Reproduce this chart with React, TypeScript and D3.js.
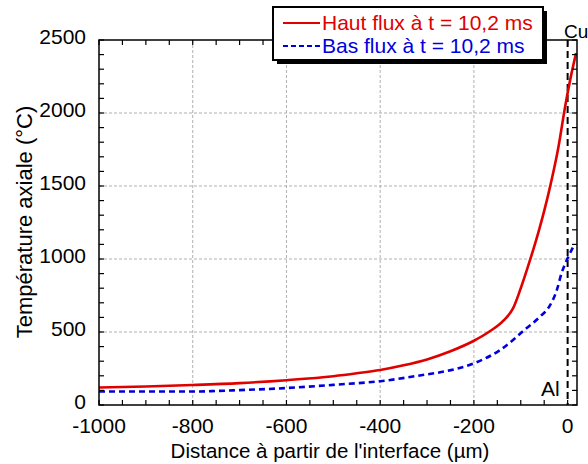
import React from "react";
import * as d3 from "d3";

const xTicks = [-1000, -800, -600, -400, -200, 0];
const yTicks = [0, 500, 1000, 1500, 2000, 2500];

const hautX = [-1000, -900, -800, -700, -600, -500, -450, -400, -350, -300, -250, -200, -166, -137, -116, -100, -80, -60, -40, -20, -5, 5, 18];
const hautY = [120, 127, 137, 150, 170, 197, 217, 240, 272, 312, 368, 440, 505, 578, 665, 800, 995, 1210, 1460, 1760, 2050, 2220, 2410];

const basX = [-1000, -900, -800, -750, -700, -600, -500, -400, -300, -272, -200, -144, -88, -59, -38, -23, -13, 0, 12];
const basY = [92, 92, 92, 96, 102, 116, 138, 163, 210, 224, 285, 377, 525, 605, 680, 788, 902, 1005, 1084];

const seriesNames = ["Haut flux à t = 10,2 ms", "Bas flux à t = 10,2 ms"];
const seriesColors = ["#e00000", "#0000dd"];

const W = 588, H = 464;
const left = 99, right = 577, top = 40, bottom = 405;
const FONT = "'Liberation Sans', Arial, sans-serif";

export default function App() {
  const x = d3.scaleLinear().domain([-1000, 20]).range([left, right]);
  const y = d3.scaleLinear().domain([0, 2500]).range([bottom, top]);
  const line = d3
    .line<[number, number]>()
    .x((d) => x(d[0]))
    .y((d) => y(d[1]))
    .curve(d3.curveMonotoneX);
  const haut = hautX.map((v, i) => [v, hautY[i]] as [number, number]);
  const bas = basX.map((v, i) => [v, basY[i]] as [number, number]);

  const xMinor = d3.range(-1000, 20, 50);
  const yMinor = d3.range(0, 2501, 100);
  const tl = 5;

  return (
    <svg width={W} height={H} style={{ position: "absolute", left: 0, top: 0, background: "#fff" }} fontFamily={FONT}>
      <rect x={0} y={0} width={W} height={H} fill="#fff" />
      {/* grid */}
      {xTicks.filter((t) => t > -1000 && t < 0).map((t) => (
        <line key={"gx" + t} x1={x(t)} x2={x(t)} y1={top} y2={bottom} stroke="#b0b0b0" strokeWidth={1} strokeDasharray="3,2" />
      ))}
      {yTicks.filter((t) => t > 0 && t < 2500).map((t) => (
        <line key={"gy" + t} x1={left} x2={right} y1={y(t)} y2={y(t)} stroke="#b0b0b0" strokeWidth={1} strokeDasharray="3,2" />
      ))}
      {/* interface line */}
      <line x1={x(0)} x2={x(0)} y1={top} y2={bottom} stroke="#000" strokeWidth={2} strokeDasharray="7,4" />
      {/* curves */}
      <path d={line(bas) || ""} fill="none" stroke={seriesColors[1]} strokeWidth={2.6} strokeDasharray="6,4" />
      <path d={line(haut) || ""} fill="none" stroke={seriesColors[0]} strokeWidth={2.6} />
      {/* ticks */}
      {xMinor.map((t) => (
        <g key={"tx" + t}>
          <line x1={x(t)} x2={x(t)} y1={bottom} y2={bottom - tl} stroke="#000" strokeWidth={1.2} />
          <line x1={x(t)} x2={x(t)} y1={top} y2={top + tl} stroke="#000" strokeWidth={1.2} />
        </g>
      ))}
      {yMinor.map((t) => (
        <g key={"ty" + t}>
          <line x1={left} x2={left + tl} y1={y(t)} y2={y(t)} stroke="#000" strokeWidth={1.2} />
          <line x1={right} x2={right - tl} y1={y(t)} y2={y(t)} stroke="#000" strokeWidth={1.2} />
        </g>
      ))}
      {/* frame */}
      <rect x={left} y={top} width={right - left} height={bottom - top} fill="none" stroke="#000" strokeWidth={1.5} />
      {/* tick labels */}
      {xTicks.map((t) => (
        <text key={"lx" + t} x={x(t)} y={433} textAnchor="middle" fontSize={21} fill="#000">{t}</text>
      ))}
      {yTicks.map((t) => (
        <text key={"ly" + t} x={86} y={y(t) + 4} textAnchor="end" fontSize={21} fill="#000">{t}</text>
      ))}
      {/* axis titles */}
      <text x={(left + right) / 2 - 8} y={458} textAnchor="middle" fontSize={20.5} fill="#000">Distance à partir de l'interface (µm)</text>
      <text transform={`translate(32,${222}) rotate(-90)`} textAnchor="middle" fontSize={22} fill="#000">Température axiale (°C)</text>
      {/* Cu / Al */}
      <text x={564} y={38} fontSize={19} fill="#000">Cu</text>
      <text x={541} y={396} fontSize={21} fill="#000">Al</text>
      {/* legend */}
      <rect x={277} y={11} width={270} height={53} fill="#000" />
      <rect x={273} y={7} width={270} height={53} fill="#fff" stroke="#000" strokeWidth={2} />
      <line x1={283} x2={320} y1={23} y2={23} stroke={seriesColors[0]} strokeWidth={2} />
      <text x={322} y={30} fontSize={21} fill={seriesColors[0]}>{seriesNames[0]}</text>
      <line x1={283} x2={320} y1={46} y2={46} stroke={seriesColors[1]} strokeWidth={2} strokeDasharray="5,3" />
      <text x={322} y={53} fontSize={21} fill={seriesColors[1]}>{seriesNames[1]}</text>
    </svg>
  );
}
